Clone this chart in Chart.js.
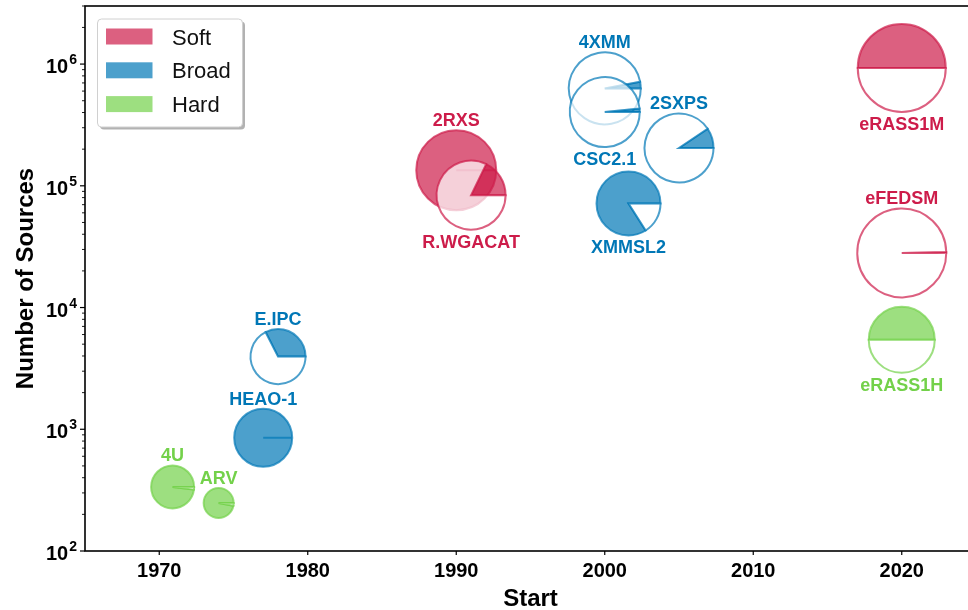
<!DOCTYPE html>
<html lang="en">
<head>
    <meta charset="UTF-8">
    <title>X-ray surveys - number of sources</title>
    <script src="https://cdn.jsdelivr.net/npm/chart.js"></script>
    <style>
        html, body { margin: 0; padding: 0; background: #fff; overflow: hidden; }
        canvas { display: block; }
    </style>
</head>
<body>
    <canvas id="graficoSurveys" width="980" height="610"></canvas>

    <script>
        // Datos
        const surveys    = ['4U', 'ARV', 'HEAO-1', 'E.IPC', '2RXS', 'R.WGACAT', '4XMM', 'CSC2.1', 'XMMSL2', '2SXPS', 'eRASS1M', 'eFEDSM', 'eRASS1H'];
        const bands      = ['Hard', 'Hard', 'Broad', 'Broad', 'Soft', 'Soft', 'Broad', 'Broad', 'Broad', 'Broad', 'Soft', 'Soft', 'Hard'];
        const startYear  = [1970.9, 1974, 1977, 1978, 1990, 1991, 2000, 2000, 2001.6, 2005, 2020, 2020, 2020];
        const nSources   = [336, 248, 851, 3955, 134500, 83800, 631000, 404000, 71600, 204600, 930000, 28100, 5430];
        const skyFrac    = [0.98, 0.97, 1.0, 0.325, 1.0, 0.178, 0.03, 0.016, 0.84, 0.094, 0.5, 0.0034, 0.5];
        const bubbleR    = [21.5, 15, 29, 27.5, 40, 34.5, 36, 35, 32, 34.5, 44, 44.5, 33];
        const labelBelow = ['R.WGACAT', 'CSC2.1', 'XMMSL2', 'eRASS1M', 'eRASS1H'];

        const bandNames = ['Soft', 'Broad', 'Hard'];
        const xTicks    = [1970, 1980, 1990, 2000, 2010, 2020];
        const yTickExp  = [2, 3, 4, 5, 6];

        const bandRGB = { Soft: [205, 28, 74], Broad: [0, 119, 182], Hard: [115, 209, 74] };
        const FONT = "'Liberation Sans', Arial, Helvetica, sans-serif";

        function rgba(b, a) {
            const c = bandRGB[b];
            return 'rgba(' + c[0] + ',' + c[1] + ',' + c[2] + ',' + a + ')';
        }

        // Marcador tipo "pie": parte llena = fraccion del cielo
        function drawPie(ctx, x, y, r, frac, b) {
            const col = rgba(b, 0.7);
            const a1 = -2 * Math.PI * frac;
            ctx.lineWidth = 2;
            ctx.lineJoin = 'miter';
            if (frac > 0) {
                ctx.beginPath();
                ctx.moveTo(x, y);
                ctx.arc(x, y, r, 0, a1, true);
                ctx.closePath();
                ctx.fillStyle = col;
                ctx.fill();
                ctx.strokeStyle = col;
                ctx.stroke();
            }
            if (frac < 1) {
                ctx.beginPath();
                ctx.moveTo(x, y);
                ctx.arc(x, y, r, a1, -2 * Math.PI, true);
                ctx.closePath();
                ctx.fillStyle = 'rgba(255,255,255,0.7)';
                ctx.fill();
                ctx.strokeStyle = col;
                ctx.stroke();
            }
        }

        const surveyPlugin = {
            id: 'surveyPlugin',
            afterDatasetsDraw(chart) {
                const ctx = chart.ctx;
                const meta = chart.getDatasetMeta(0);
                ctx.save();
                meta.data.forEach((el, k) => {
                    drawPie(ctx, el.x, el.y, el.options.radius, skyFrac[k], bands[k]);
                });
                // nombres de los catalogos
                ctx.font = 'bold 18px ' + FONT;
                ctx.textAlign = 'center';
                meta.data.forEach((el, k) => {
                    const r = el.options.radius;
                    ctx.fillStyle = rgba(bands[k], 1);
                    if (labelBelow.includes(surveys[k])) {
                        ctx.textBaseline = 'top';
                        ctx.fillText(surveys[k], el.x, el.y + r + 4);
                    } else {
                        ctx.textBaseline = 'alphabetic';
                        ctx.fillText(surveys[k], el.x, el.y - r - 4);
                    }
                });
                ctx.restore();
            },
            afterDraw(chart) {
                const ctx = chart.ctx;
                const a = chart.chartArea;
                const xs = chart.scales.x, ys = chart.scales.y;
                ctx.save();

                // marco
                ctx.strokeStyle = '#000';
                ctx.lineWidth = 1.6;
                ctx.strokeRect(a.left, a.top, a.right - a.left, a.bottom - a.top);

                // ticks eje x
                ctx.lineWidth = 1.2;
                ctx.fillStyle = '#000';
                ctx.font = 'bold 20px ' + FONT;
                ctx.textAlign = 'center';
                ctx.textBaseline = 'alphabetic';
                xTicks.forEach(v => {
                    const px = xs.getPixelForValue(v);
                    ctx.beginPath();
                    ctx.moveTo(px, a.bottom);
                    ctx.lineTo(px, a.bottom + 4);
                    ctx.stroke();
                    ctx.fillText(String(v), px, a.bottom + 26);
                });

                // ticks eje y (log)
                yTickExp.forEach(e => {
                    for (let m = 1; m <= 9; m++) {
                        const v = m * Math.pow(10, e);
                        if (v > ys.max) break;
                        const py = ys.getPixelForValue(v);
                        ctx.lineWidth = m === 1 ? 1.2 : 0.9;
                        ctx.beginPath();
                        ctx.moveTo(a.left, py);
                        ctx.lineTo(a.left - (m === 1 ? 5 : 3), py);
                        ctx.stroke();
                    }
                    const py = ys.getPixelForValue(Math.pow(10, e));
                    ctx.font = 'bold 14px ' + FONT;
                    const supW = ctx.measureText(String(e)).width;
                    ctx.textAlign = 'right';
                    ctx.fillText(String(e), a.left - 8, py);
                    ctx.font = 'bold 20px ' + FONT;
                    ctx.fillText('10', a.left - 9 - supW, py + 9);
                });

                // titulos de ejes
                ctx.font = 'bold 24px ' + FONT;
                ctx.textAlign = 'center';
                ctx.fillText('Start', (a.left + a.right) / 2, 606);
                ctx.save();
                ctx.translate(33, (a.top + a.bottom) / 2);
                ctx.rotate(-Math.PI / 2);
                ctx.fillText('Number of Sources', 0, 0);
                ctx.restore();

                // leyenda
                const lx = 97.5, ly = 19, lw = 145, lh = 108;
                ctx.fillStyle = 'rgba(0,0,0,0.3)';
                ctx.beginPath();
                ctx.roundRect(lx + 2.5, ly + 2.5, lw, lh, 4);
                ctx.fill();
                ctx.fillStyle = '#fff';
                ctx.strokeStyle = '#d0d0d0';
                ctx.lineWidth = 1;
                ctx.beginPath();
                ctx.roundRect(lx, ly, lw, lh, 4);
                ctx.fill();
                ctx.stroke();
                ctx.font = '22px ' + FONT;
                ctx.textAlign = 'left';
                bandNames.forEach((b, k) => {
                    const ry = 28.5 + k * 33.8;
                    ctx.fillStyle = rgba(b, 0.7);
                    ctx.fillRect(106, ry, 46.5, 16);
                    ctx.fillStyle = '#111';
                    ctx.fillText(b, 172, ry + 16);
                });

                ctx.restore();
            }
        };

        const ctxSurveys = document.getElementById('graficoSurveys').getContext('2d');
        const graficoSurveys = new Chart(ctxSurveys, {
            type: 'bubble',
            data: {
                datasets: [{
                    label: 'Surveys',
                    data: surveys.map((s, k) => ({ x: startYear[k], y: nSources[k], r: bubbleR[k] })),
                    backgroundColor: 'rgba(0,0,0,0)',
                    borderColor: 'rgba(0,0,0,0)',
                    borderWidth: 0
                }]
            },
            options: {
                responsive: false,
                devicePixelRatio: 1,
                animation: false,
                layout: { autoPadding: false, padding: { left: 85, top: 6, right: 4, bottom: 59 } },
                plugins: { legend: { display: false }, tooltip: { enabled: false } },
                scales: {
                    x: { type: 'linear', min: 1965, max: 2025, display: false },
                    y: { type: 'logarithmic', min: 100, max: 3e6, display: false }
                }
            },
            plugins: [surveyPlugin]
        });
    </script>
</body>
</html>
